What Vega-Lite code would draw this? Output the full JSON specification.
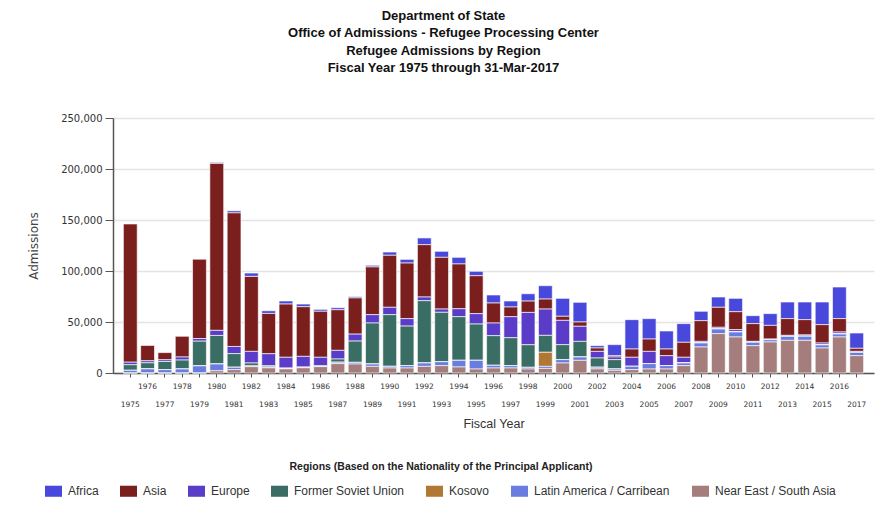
{
  "$schema": "https://vega.github.io/schema/vega-lite/v6.json",
  "autosize": {"type": "none"},
  "width": 761,
  "height": 255,
  "padding": {"left": 113, "top": 118, "right": 10, "bottom": 137},
  "background": "white",
  "config": {"view": {"stroke": null}},
  "title": {
    "text": ["Department of State", "Office of Admissions - Refugee Processing Center", "Refugee Admissions by Region", "Fiscal Year 1975 through 31-Mar-2017"],
    "font": "Liberation Sans Narrow, Liberation Sans, sans-serif",
    "fontSize": 13,
    "fontWeight": "bold",
    "lineHeight": 17.5,
    "color": "#111111",
    "anchor": "middle",
    "frame": "group",
    "dx": -50,
    "offset": 38
  },
  "data": {
    "values": [
      {"year": 1975, "Africa": 0, "Asia": 135500, "Europe": 2500, "Former Soviet Union": 5500, "Kosovo": 0, "Latin America / Carribean": 2600, "Near East / South Asia": 0},
      {"year": 1976, "Africa": 0, "Asia": 15000, "Europe": 2000, "Former Soviet Union": 6000, "Kosovo": 0, "Latin America / Carribean": 4000, "Near East / South Asia": 0},
      {"year": 1977, "Africa": 0, "Asia": 7000, "Europe": 1700, "Former Soviet Union": 8000, "Kosovo": 0, "Latin America / Carribean": 3300, "Near East / South Asia": 0},
      {"year": 1978, "Africa": 0, "Asia": 20300, "Europe": 3000, "Former Soviet Union": 8800, "Kosovo": 0, "Latin America / Carribean": 3900, "Near East / South Asia": 0},
      {"year": 1979, "Africa": 0, "Asia": 77800, "Europe": 2600, "Former Soviet Union": 24200, "Kosovo": 0, "Latin America / Carribean": 7000, "Near East / South Asia": 0},
      {"year": 1980, "Africa": 1000, "Asia": 163700, "Europe": 5000, "Former Soviet Union": 28000, "Kosovo": 0, "Latin America / Carribean": 6600, "Near East / South Asia": 2200},
      {"year": 1981, "Africa": 2000, "Asia": 131000, "Europe": 7000, "Former Soviet Union": 13400, "Kosovo": 0, "Latin America / Carribean": 2300, "Near East / South Asia": 3300},
      {"year": 1982, "Africa": 3300, "Asia": 73500, "Europe": 11400, "Former Soviet Union": 3000, "Kosovo": 0, "Latin America / Carribean": 600, "Near East / South Asia": 6200},
      {"year": 1983, "Africa": 2600, "Asia": 39500, "Europe": 11800, "Former Soviet Union": 1400, "Kosovo": 0, "Latin America / Carribean": 700, "Near East / South Asia": 5000},
      {"year": 1984, "Africa": 3000, "Asia": 52200, "Europe": 10500, "Former Soviet Union": 700, "Kosovo": 0, "Latin America / Carribean": 200, "Near East / South Asia": 4000},
      {"year": 1985, "Africa": 2600, "Asia": 48700, "Europe": 10400, "Former Soviet Union": 600, "Kosovo": 0, "Latin America / Carribean": 200, "Near East / South Asia": 5100},
      {"year": 1986, "Africa": 1900, "Asia": 45100, "Europe": 8200, "Former Soviet Union": 800, "Kosovo": 0, "Latin America / Carribean": 200, "Near East / South Asia": 6200},
      {"year": 1987, "Africa": 2000, "Asia": 39800, "Europe": 8500, "Former Soviet Union": 3200, "Kosovo": 0, "Latin America / Carribean": 1300, "Near East / South Asia": 9200},
      {"year": 1988, "Africa": 1300, "Asia": 35500, "Europe": 6800, "Former Soviet Union": 20900, "Kosovo": 0, "Latin America / Carribean": 1600, "Near East / South Asia": 8800},
      {"year": 1989, "Africa": 1600, "Asia": 46800, "Europe": 8200, "Former Soviet Union": 40200, "Kosovo": 0, "Latin America / Carribean": 2300, "Near East / South Asia": 6500},
      {"year": 1990, "Africa": 3200, "Asia": 51000, "Europe": 7200, "Former Soviet Union": 50700, "Kosovo": 0, "Latin America / Carribean": 1600, "Near East / South Asia": 4900},
      {"year": 1991, "Africa": 3600, "Asia": 54500, "Europe": 7300, "Former Soviet Union": 38800, "Kosovo": 0, "Latin America / Carribean": 2300, "Near East / South Asia": 4900},
      {"year": 1992, "Africa": 6600, "Asia": 51300, "Europe": 3600, "Former Soviet Union": 61100, "Kosovo": 0, "Latin America / Carribean": 3300, "Near East / South Asia": 6500},
      {"year": 1993, "Africa": 5900, "Asia": 50700, "Europe": 3200, "Former Soviet Union": 48400, "Kosovo": 0, "Latin America / Carribean": 3900, "Near East / South Asia": 7200},
      {"year": 1994, "Africa": 6500, "Asia": 43900, "Europe": 7800, "Former Soviet Union": 42800, "Kosovo": 0, "Latin America / Carribean": 6500, "Near East / South Asia": 5900},
      {"year": 1995, "Africa": 4300, "Asia": 37200, "Europe": 10200, "Former Soviet Union": 35600, "Kosovo": 0, "Latin America / Carribean": 8500, "Near East / South Asia": 3900},
      {"year": 1996, "Africa": 7900, "Asia": 19600, "Europe": 12400, "Former Soviet Union": 29100, "Kosovo": 0, "Latin America / Carribean": 2600, "Near East / South Asia": 4900},
      {"year": 1997, "Africa": 5900, "Asia": 9500, "Europe": 20600, "Former Soviet Union": 27400, "Kosovo": 0, "Latin America / Carribean": 2300, "Near East / South Asia": 4900},
      {"year": 1998, "Africa": 7200, "Asia": 11100, "Europe": 31700, "Former Soviet Union": 22200, "Kosovo": 0, "Latin America / Carribean": 1600, "Near East / South Asia": 3900},
      {"year": 1999, "Africa": 13100, "Asia": 9800, "Europe": 25800, "Former Soviet Union": 16600, "Kosovo": 13800, "Latin America / Carribean": 2000, "Near East / South Asia": 4500},
      {"year": 2000, "Africa": 17600, "Asia": 4000, "Europe": 23800, "Former Soviet Union": 14700, "Kosovo": 0, "Latin America / Carribean": 3300, "Near East / South Asia": 9800},
      {"year": 2001, "Africa": 19300, "Asia": 4200, "Europe": 14800, "Former Soviet Union": 15300, "Kosovo": 0, "Latin America / Carribean": 3300, "Near East / South Asia": 12400},
      {"year": 2002, "Africa": 2300, "Asia": 3300, "Europe": 6500, "Former Soviet Union": 9100, "Kosovo": 0, "Latin America / Carribean": 1600, "Near East / South Asia": 4000},
      {"year": 2003, "Africa": 10800, "Asia": 1300, "Europe": 2600, "Former Soviet Union": 9200, "Kosovo": 0, "Latin America / Carribean": 1300, "Near East / South Asia": 2600},
      {"year": 2004, "Africa": 28800, "Asia": 8100, "Europe": 8900, "Former Soviet Union": 0, "Kosovo": 0, "Latin America / Carribean": 3200, "Near East / South Asia": 3300},
      {"year": 2005, "Africa": 20000, "Asia": 12100, "Europe": 12000, "Former Soviet Union": 0, "Kosovo": 0, "Latin America / Carribean": 5300, "Near East / South Asia": 3900},
      {"year": 2006, "Africa": 17700, "Asia": 6500, "Europe": 9800, "Former Soviet Union": 0, "Kosovo": 0, "Latin America / Carribean": 3300, "Near East / South Asia": 3900},
      {"year": 2007, "Africa": 18300, "Asia": 14700, "Europe": 5600, "Former Soviet Union": 0, "Kosovo": 0, "Latin America / Carribean": 2600, "Near East / South Asia": 7200},
      {"year": 2008, "Africa": 9200, "Asia": 20300, "Europe": 1600, "Former Soviet Union": 0, "Kosovo": 0, "Latin America / Carribean": 3900, "Near East / South Asia": 25500},
      {"year": 2009, "Africa": 10100, "Asia": 19600, "Europe": 1700, "Former Soviet Union": 0, "Kosovo": 0, "Latin America / Carribean": 4500, "Near East / South Asia": 38600},
      {"year": 2010, "Africa": 13100, "Asia": 17600, "Europe": 2300, "Former Soviet Union": 0, "Kosovo": 0, "Latin America / Carribean": 4900, "Near East / South Asia": 35300},
      {"year": 2011, "Africa": 7800, "Asia": 17400, "Europe": 900, "Former Soviet Union": 0, "Kosovo": 0, "Latin America / Carribean": 3300, "Near East / South Asia": 26800},
      {"year": 2012, "Africa": 11500, "Asia": 13400, "Europe": 700, "Former Soviet Union": 0, "Kosovo": 0, "Latin America / Carribean": 2200, "Near East / South Asia": 30400},
      {"year": 2013, "Africa": 16300, "Asia": 16400, "Europe": 1000, "Former Soviet Union": 0, "Kosovo": 0, "Latin America / Carribean": 3900, "Near East / South Asia": 32000},
      {"year": 2014, "Africa": 17300, "Asia": 15000, "Europe": 1300, "Former Soviet Union": 0, "Kosovo": 0, "Latin America / Carribean": 4000, "Near East / South Asia": 32000},
      {"year": 2015, "Africa": 22200, "Asia": 18000, "Europe": 1900, "Former Soviet Union": 0, "Kosovo": 0, "Latin America / Carribean": 3000, "Near East / South Asia": 24500},
      {"year": 2016, "Africa": 31000, "Asia": 13100, "Europe": 2000, "Former Soviet Union": 0, "Kosovo": 0, "Latin America / Carribean": 2900, "Near East / South Asia": 35300},
      {"year": 2017, "Africa": 15000, "Asia": 3000, "Europe": 1000, "Former Soviet Union": 0, "Kosovo": 0, "Latin America / Carribean": 3200, "Near East / South Asia": 17000}
    ]
  },
  "transform": [
    {"fold": ["Africa", "Asia", "Europe", "Former Soviet Union", "Kosovo", "Latin America / Carribean", "Near East / South Asia"], "as": ["region", "admissions"]},
    {"calculate": "indexof(['Africa','Asia','Europe','Former Soviet Union','Kosovo','Latin America / Carribean','Near East / South Asia'], datum.region)", "as": "rank"}
  ],
  "mark": {"type": "bar", "stroke": "white", "strokeWidth": 0.8, "strokeOpacity": 0.8},
  "encoding": {
    "x": {
      "field": "year",
      "type": "ordinal",
      "scale": {"paddingInner": 0.2, "paddingOuter": 0.6},
      "axis": {
        "title": "Fiscal Year",
        "titleFont": "Liberation Sans, sans-serif",
        "titleFontSize": 12.5,
        "titleFontWeight": "normal",
        "titleColor": "#333333",
        "titlePadding": 10,
        "labelAngle": 0,
        "labelFont": "DejaVu Sans, sans-serif",
        "labelFontSize": 7.5,
        "labelColor": "#333333",
        "labelLineHeight": 18,
        "labelPadding": 5,
        "labelOverlap": false,
        "labelExpr": "datum.value % 2 == 0 ? datum.label : ['', datum.label]",
        "tickSize": 4,
        "tickColor": "#555555",
        "domainColor": "#555555",
        "domainWidth": 1.5,
        "grid": false
      }
    },
    "y": {
      "field": "admissions",
      "type": "quantitative",
      "stack": "zero",
      "scale": {"domain": [0, 250000], "nice": false},
      "axis": {
        "title": "Admissions",
        "titleFont": "DejaVu Sans, sans-serif",
        "titleFontSize": 12,
        "titleFontWeight": "normal",
        "titleColor": "#444444",
        "titlePadding": 20,
        "values": [0, 50000, 100000, 150000, 200000, 250000],
        "format": ",d",
        "labelFont": "DejaVu Sans, sans-serif",
        "labelFontSize": 10,
        "labelColor": "#333333",
        "labelPadding": 3,
        "tickSize": 8,
        "tickColor": "#555555",
        "domainColor": "#555555",
        "domainWidth": 1.5,
        "gridColor": "#e4e4e4",
        "gridWidth": 1.5
      }
    },
    "color": {
      "field": "region",
      "type": "nominal",
      "scale": {
        "domain": ["Africa", "Asia", "Europe", "Former Soviet Union", "Kosovo", "Latin America / Carribean", "Near East / South Asia"],
        "range": ["#4848dc", "#7b1e1e", "#5a3cc8", "#3a6e64", "#b07832", "#697de1", "#a57d7d"]
      },
      "legend": {
        "orient": "none",
        "legendX": -68,
        "legendY": 344,
        "direction": "horizontal",
        "title": "Regions (Based on the Nationality of the Principal Applicant)",
        "titleFont": "Liberation Sans Narrow, Liberation Sans, sans-serif",
        "titleFontSize": 10.5,
        "titleFontWeight": "bold",
        "titleColor": "#222222",
        "titleAnchor": "middle",
        "titleLimit": 0,
        "titlePadding": 10,
        "symbolType": "M-1,-0.65H1V0.65H-1Z",
        "symbolSize": 289,
        "symbolStrokeWidth": 0,
        "symbolOpacity": 1,
        "labelFont": "Liberation Sans, sans-serif",
        "labelFontSize": 12,
        "labelColor": "#333333",
        "labelOffset": 6,
        "labelLimit": 0,
        "columnPadding": 21
      }
    },
    "order": {"field": "rank", "sort": "descending"}
  }
}
